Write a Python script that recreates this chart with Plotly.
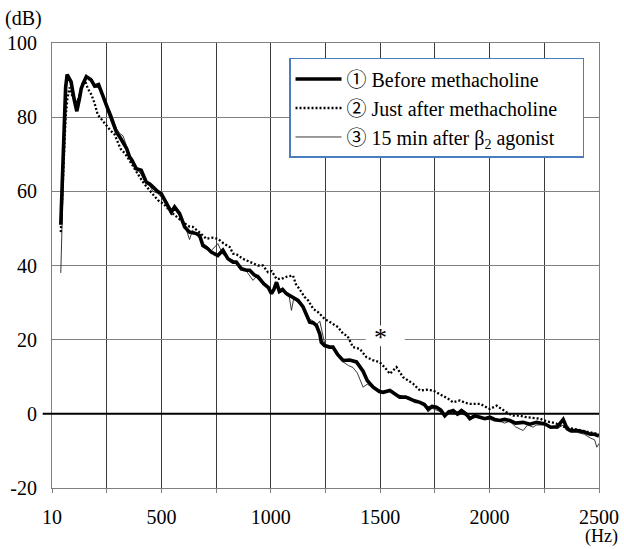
import plotly.graph_objects as go

# ---------------- data ----------------
before_hz = [50, 62, 72, 79, 90, 97, 110, 123, 135, 143, 155, 166, 178, 189, 204, 222, 240, 257, 280, 303,
             320, 333, 350, 363, 374, 394, 416, 439, 455, 469, 490, 507, 530, 553, 568, 591, 614, 636, 667, 682,
             697, 720, 735, 765, 788, 811, 834, 849, 872, 895, 910, 930, 948, 975, 995, 1009, 1020, 1032, 1045, 1060,
             1077, 1100, 1130, 1153, 1170, 1183, 1200, 1214, 1229, 1236, 1251, 1274, 1289, 1310, 1335, 1365, 1396, 1426, 1445, 1472,
             1500, 1517, 1548, 1578, 1593, 1620, 1639, 1660, 1685, 1705, 1722, 1740, 1760, 1780, 1798, 1815, 1836, 1855, 1874, 1895,
             1912, 1935, 1958, 1980, 2003, 2025, 2049, 2070, 2094, 2120, 2155, 2185, 2216, 2254, 2280, 2310, 2337, 2355, 2372, 2400,
             2433, 2460, 2480, 2500]
before_db = [51, 70, 88, 91.5, 90.5, 89.5, 85, 81.6, 85, 87.7, 89.5, 90.9, 90.5, 90, 88.4, 88.8, 86, 83.2, 80, 76,
             74.5, 73.3, 71.5, 69.3, 68.4, 66.1, 65.7, 62.5, 62, 61.2, 60, 59.4, 57, 54.4, 55.8, 54, 50.4, 49, 48.6, 48.1,
             45.4, 44.5, 43.6, 42.7, 44.1, 41.8, 40.9, 40.9, 39.1, 38.7, 38.7, 37.5, 36.9, 35, 34, 32.4, 33.5, 35.5, 33, 33.5,
             32.4, 31.5, 30.6, 28.8, 26.5, 24.7, 24.5, 23.8, 21.5, 19.3, 18.4, 18, 18, 16, 14.4, 14.5, 14, 11.5, 9, 7.2,
             6, 5.8, 6.3, 4.9, 4.5, 4.5, 4, 3.5, 3.1, 2.5, 1.3, 2, 1.8, 1, -0.5, 0.5, 0.9, 0, 0.9, 0,
             -1.3, -0.5, -0.9, -1.3, -0.9, -1.5, -1.8, -1.5, -1.8, -2.5, -2.3, -2.8, -2.3, -2.7, -3.6, -3.5, -1.5, -4, -4.5, -4.5,
             -4.9, -5.5, -5.5, -6]

just_after_hz = [50, 60, 72, 80, 90, 101, 115, 125, 140, 150, 160, 173, 190, 204, 218, 240, 257, 275, 295, 322,
                 345, 370, 390, 409, 430, 450, 470, 492, 520, 550, 580, 610, 636, 651, 680, 713, 740, 765, 790, 819,
                 834, 850, 879, 910, 948, 970, 993, 1010, 1032, 1054, 1080, 1107, 1120, 1138, 1160, 1176, 1199, 1220, 1251, 1282,
                 1312, 1335, 1355, 1380, 1411, 1441, 1470, 1502, 1525, 1548, 1578, 1608, 1630, 1654, 1685, 1715, 1745, 1770, 1791, 1815,
                 1836, 1867, 1890, 1912, 1958, 1980, 2003, 2034, 2064, 2090, 2110, 2140, 2170, 2200, 2231, 2260, 2300, 2340, 2380, 2420,
                 2460, 2500]
just_after_db = [49, 62, 80, 85, 88, 86, 85, 84, 87, 89.5, 90, 87.7, 86, 83.7, 80.7, 79, 77.8, 76.5, 75.3, 71.5,
                 70, 67.5, 65.5, 63.9, 62, 60.5, 59, 57.6, 56.5, 54.5, 53, 51.5, 50.5, 50.4, 49, 47.2, 47.5, 47.2, 46, 45,
                 43.2, 43, 41.8, 40.9, 40, 40, 38.2, 38.5, 36.4, 36.4, 37, 37.3, 35, 33.5, 31.5, 30.6, 28.3, 27.5, 25.6, 24.5,
                 23.4, 21.6, 21, 18, 17.5, 15.3, 14.5, 13.9, 12.5, 10.8, 12.6, 9.9, 9, 8.1, 6.3, 6.5, 6.3, 5.5, 4.9, 4,
                 3.1, 3.6, 3, 2.7, 2.7, 2, 1.3, 2.2, 0.9, 0, -0.5, -0.5, -0.9, -1, -1.3, -2, -2.5, -3.5, -4, -4.5,
                 -5, -5.5]

after_b2_hz = [50, 55, 62, 72, 79, 90, 97, 110, 123, 135, 150, 166, 178, 189, 204, 222, 240, 257, 280, 303,
               320, 333, 350, 363, 374, 394, 416, 439, 455, 469, 490, 507, 530, 553, 568, 591, 614, 636, 650, 667,
               697, 720, 735, 765, 788, 811, 834, 849, 872, 895, 925, 948, 975, 995, 1009, 1032, 1045, 1060, 1077, 1090,
               1100, 1110, 1130, 1153, 1170, 1183, 1200, 1214, 1229, 1244, 1251, 1270, 1289, 1310, 1335, 1360, 1380, 1400, 1426, 1445,
               1472, 1500, 1517, 1548, 1578, 1593, 1620, 1639, 1660, 1685, 1705, 1722, 1740, 1760, 1780, 1798, 1815, 1836, 1855, 1874,
               1895, 1912, 1935, 1958, 1980, 2003, 2025, 2049, 2070, 2094, 2120, 2155, 2175, 2200, 2216, 2254, 2280, 2310, 2337, 2355,
               2372, 2400, 2433, 2460, 2480, 2490, 2500]
after_b2_db = [38, 50, 70, 88, 91, 90, 89, 85, 82.5, 86, 89, 91.5, 90, 90.5, 88, 88, 86, 84, 81, 77,
               75.5, 75, 72, 70, 68, 66.5, 64.5, 62, 61.5, 60, 59.5, 58.5, 57.5, 55, 56, 53.5, 51, 47, 49.5, 48.5,
               46, 45, 44, 45.9, 43, 42, 41.5, 40.5, 39.5, 38.5, 36, 37.5, 35.5, 34.5, 33, 35, 33.5, 34, 32, 31.5,
               27.9, 31, 30, 29, 27, 25.5, 25, 24, 25, 20.7, 19, 18, 17.5, 16, 14, 13, 12.5, 11, 7.2, 8,
               7, 6.5, 6, 6, 5, 5, 4.5, 4.5, 3, 3, 2.5, 0.5, 1.5, 1, 0.5, -0.5, 1, 0.5, -0.5, 0,
               -0.5, -1.5, -1, -1, -1.5, -1.5, -2, -2, -2.5, -2, -3.5, -4.5, -3, -3.6, -3, -3, -3.5, -4, -3, -4.5,
               -5, -5, -5.5, -6.5, -7, -9, -8]

series_names = ["\u2460 Before methacholine",
                "\u2461 Just after methacholine\u00a0\u00a0\u00a0\u00a0",
                "\u2462 15 min after \u03b2<sub>2</sub> agonist"]

x_tick_vals = [10, 508, 1006, 1504, 2002, 2500]
x_tick_text = ["10", "500", "1000", "1500", "2000", "2500"]
x_minor_vals = [259, 757, 1255, 1753, 2251]
y_tick_vals = [-20, 0, 20, 40, 60, 80, 100]
y_tick_text = ["-20", "0", "20", "40", "60", "80", "100"]

FONT = "Liberation Serif, Times New Roman, serif"
LEGEND_FONT = "Liberation Serif, Noto Sans CJK JP, serif"

fig = go.Figure()
fig.add_trace(go.Scatter(x=after_b2_hz, y=after_b2_db, mode="lines", name=series_names[2],
                         line=dict(color="#222222", width=0.9), legendrank=3, legendgroup="c"))
fig.add_trace(go.Scatter(x=just_after_hz, y=just_after_db, mode="lines", name=series_names[1],
                         line=dict(color="black", width=2.3, dash="2px,2px"), legendrank=2, legendgroup="b"))
fig.add_trace(go.Scatter(x=before_hz, y=before_db, mode="lines", name=series_names[0],
                         line=dict(color="black", width=3.6), legendrank=1, legendgroup="a"))

# zero line extending past the axis
fig.add_shape(type="line", xref="paper", yref="y", x0=-0.017, x1=1, y0=0, y1=0,
              line=dict(color="black", width=2))
# white patch behind the asterisk (covers the grid only)
fig.add_shape(type="rect", xref="x", yref="y", x0=1438, x1=1616, y0=18.2, y1=23.8,
              fillcolor="white", line=dict(width=0), layer="between")

fig.add_annotation(x=1504, y=21, xref="x", yref="y", text="*", showarrow=False,
                   xanchor="center", yanchor="middle", yshift=-2,
                   font=dict(family=FONT, size=26, color="black"))
fig.add_annotation(x=-0.0512, y=1.054, xref="paper", yref="paper", text="(dB)", showarrow=False,
                   xanchor="center", yanchor="middle",
                   font=dict(family=FONT, size=20, color="black"))
fig.add_annotation(x=1.0037, y=-0.1096, xref="paper", yref="paper", text="(Hz)", showarrow=False,
                   xanchor="center", yanchor="middle", borderpad=0,
                   font=dict(family=FONT, size=18, color="black"))

fig.update_layout(
    width=624, height=549,
    margin=dict(l=52, r=25, t=43, b=61),
    paper_bgcolor="white", plot_bgcolor="white",
    font=dict(family=FONT, size=20, color="black"),
    showlegend=True,
    legend=dict(x=0.4333, y=0.9663, xanchor="left", yanchor="top",
                bgcolor="white", bordercolor="#4A7EBB", borderwidth=1.5,
                font=dict(family=LEGEND_FONT, size=20, color="black"),
                itemwidth=46, tracegroupgap=0, traceorder="grouped"),
    xaxis=dict(range=[10, 2500], tickvals=x_tick_vals, ticktext=x_tick_text,
               showgrid=True, gridcolor="#3a3a3a", gridwidth=1,
               minor=dict(tickvals=x_minor_vals, showgrid=True, gridcolor="#3a3a3a", gridwidth=1,
                          ticks="outside", ticklen=4, tickcolor="#808080"),
               showline=True, linecolor="#808080", linewidth=1, mirror=True,
               ticks="outside", ticklen=4, tickcolor="#808080",
               ticklabelstandoff=7, zeroline=False, automargin=False,
               tickfont=dict(family=FONT, size=20, color="black")),
    yaxis=dict(range=[-20, 100], tickvals=y_tick_vals, ticktext=y_tick_text,
               showgrid=True, gridcolor="#808080", gridwidth=1,
               showline=True, linecolor="#808080", linewidth=1, mirror=True,
               ticks="", ticklabelstandoff=10, zeroline=False, automargin=False,
               tickfont=dict(family=FONT, size=20, color="black")),
)

fig.write_html("out.html", config={"displayModeBar": False},
               post_script="document.body.style.margin='0px';")
